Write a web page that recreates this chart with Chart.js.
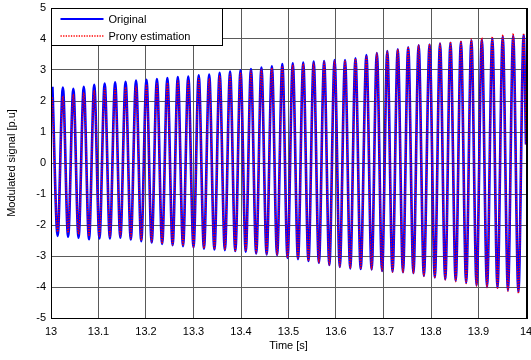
<!DOCTYPE html>
<html>
<head>
<meta charset="utf-8">
<script src="https://cdn.jsdelivr.net/npm/chart.js@4"></script>
<style>
  html, body { margin: 0; padding: 0; background: #fff; }
  #wrap { width: 531px; height: 360px; }
</style>
</head>
<body>
<div id="wrap"><canvas id="grafico"></canvas></div>
<script>
// times of the peaks and troughs [s]
const peakT = [13.003, 13.025, 13.047, 13.069, 13.091, 13.113, 13.135, 13.157, 13.179, 13.201,
  13.223, 13.245, 13.267, 13.289, 13.311, 13.333, 13.355, 13.377, 13.399, 13.421,
  13.443, 13.465, 13.487, 13.509, 13.531, 13.553, 13.575, 13.597, 13.619, 13.641,
  13.664, 13.686, 13.708, 13.730, 13.752, 13.774, 13.797, 13.819, 13.841, 13.863,
  13.885, 13.907, 13.929, 13.951, 13.973, 13.995]
const troughT = [13.014, 13.036, 13.058, 13.080, 13.102, 13.124, 13.146, 13.168, 13.190, 13.212,
  13.234, 13.256, 13.278, 13.300, 13.322, 13.344, 13.366, 13.388, 13.410, 13.432,
  13.454, 13.476, 13.498, 13.520, 13.542, 13.564, 13.586, 13.608, 13.630, 13.652,
  13.675, 13.697, 13.719, 13.741, 13.763, 13.785, 13.808, 13.830, 13.852, 13.874,
  13.896, 13.918, 13.940, 13.962, 13.984]
const endT = 14.0

// Original signal [p.u]
const originalPeaks = [2.46, 2.43, 2.39, 2.46, 2.52, 2.56, 2.60, 2.62, 2.66, 2.68, 2.71, 2.74, 2.77, 2.79, 2.83, 2.85,
  2.91, 2.95, 2.99, 3.03, 3.08, 3.12, 3.19, 3.22, 3.24, 3.27, 3.29, 3.32, 3.32, 3.38, 3.48,
  3.55, 3.61, 3.67, 3.73, 3.80, 3.82, 3.85, 3.88, 3.91, 3.96, 3.99, 4.02, 4.08, 4.10, 4.13]
const originalTroughs = [-2.35, -2.38, -2.41, -2.46, -2.43, -2.43, -2.41, -2.47, -2.52, -2.56, -2.61, -2.65, -2.68, -2.72, -2.76,
  -2.79, -2.81, -2.84, -2.86, -2.92, -2.95, -2.97, -3.06, -3.10, -3.16, -3.22, -3.29, -3.35, -3.40, -3.42,
  -3.43, -3.48, -3.51, -3.52, -3.55, -3.64, -3.69, -3.75, -3.80, -3.86, -3.94, -3.99, -4.02, -4.10, -4.16]
const originalEnd = 0.6

// Prony estimation [p.u]
const pronyPeaks = [2.11, 2.16, 2.22, 2.27, 2.35, 2.41, 2.41, 2.45, 2.49, 2.54, 2.56, 2.59, 2.65, 2.65, 2.73, 2.73,
  2.82, 2.87, 2.92, 2.97, 3.02, 3.07, 3.13, 3.17, 3.20, 3.23, 3.26, 3.30, 3.31, 3.37, 3.46,
  3.55, 3.61, 3.67, 3.74, 3.81, 3.84, 3.87, 3.91, 3.94, 4.00, 4.04, 4.08, 4.14, 4.18, 4.18]
const pronyTroughs = [-2.22, -2.25, -2.30, -2.36, -2.36, -2.37, -2.37, -2.44, -2.50, -2.54, -2.60, -2.64, -2.67, -2.71, -2.75,
  -2.78, -2.80, -2.83, -2.85, -2.91, -2.94, -2.97, -3.06, -3.10, -3.16, -3.22, -3.29, -3.35, -3.40, -3.42,
  -3.44, -3.49, -3.52, -3.54, -3.57, -3.66, -3.71, -3.77, -3.83, -3.89, -3.97, -4.02, -4.06, -4.14, -4.21]
const pronyEnd = 0.6

const xTicks = ['13', '13.1', '13.2', '13.3', '13.4', '13.5', '13.6', '13.7', '13.8', '13.9', '14']
const yTicks = [-5, -4, -3, -2, -1, 0, 1, 2, 3, 4, 5]

const FONT = 'Liberation Sans, Arial, sans-serif'

// peaks and troughs alternate
function serie(peaks, troughs, last) {
  const pts = []
  for (let i = 0; i < peakT.length; i++) {
    pts.push({ x: peakT[i], y: peaks[i] })
    if (i < troughT.length) pts.push({ x: troughT[i], y: troughs[i] })
  }
  pts.push({ x: endT, y: last })
  return pts
}

const caixa = {
  id: 'caixa',
  afterDatasetsDraw(chart) {
    const { ctx, chartArea: a } = chart
    ctx.save()
    ctx.strokeStyle = '#000'
    ctx.lineWidth = 1
    ctx.strokeRect(Math.round(a.left) + 0.5, Math.round(a.top) + 0.5, Math.round(a.right - a.left), Math.round(a.bottom - a.top))
    // right edge is a bit heavier
    ctx.fillStyle = '#000'
    ctx.fillRect(Math.round(a.right), Math.round(a.top), 2, Math.round(a.bottom - a.top) + 1)

    // legend inside the plot
    const lx = Math.round(a.left) + 0.5, ly = Math.round(a.top) + 0.5
    ctx.fillStyle = '#fff'
    ctx.fillRect(lx, ly, 171, 37)
    ctx.strokeRect(lx, ly, 171, 37)
    const ds = chart.data.datasets
    const rows = [19, 36]
    ds.forEach((d, i) => {
      ctx.beginPath()
      ctx.strokeStyle = d.borderColor
      ctx.lineWidth = i === 0 ? 2 : 1.5
      ctx.setLineDash(d.borderDash || [])
      ctx.moveTo(lx + 9, rows[i])
      ctx.lineTo(lx + 52, rows[i])
      ctx.stroke()
      ctx.setLineDash([])
      ctx.fillStyle = '#000'
      ctx.font = '11px ' + FONT
      ctx.textBaseline = 'middle'
      ctx.fillText(d.label, lx + 57, rows[i] + 0.5)
    })
    ctx.restore()
  }
}

const config = {
  type: 'line',
  data: {
    datasets: [{
      label: 'Original',
      data: serie(originalPeaks, originalTroughs, originalEnd),
      borderColor: '#0000ff',
      borderWidth: 2.6,
      pointRadius: 0,
      cubicInterpolationMode: 'monotone',
      order: 2
    }, {
      label: 'Prony estimation',
      data: serie(pronyPeaks, pronyTroughs, pronyEnd),
      borderColor: '#ff0000',
      borderWidth: 1.3,
      borderDash: [1.3, 1.3],
      pointRadius: 0,
      cubicInterpolationMode: 'monotone',
      order: 1
    }]
  },
  options: {
    responsive: true,
    maintainAspectRatio: false,
    animation: false,
    events: [],
    layout: { padding: { top: 8, right: 5, left: 0, bottom: 0 } },
    plugins: { legend: { display: false }, tooltip: { enabled: false } },
    scales: {
      x: {
        type: 'linear',
        min: 13,
        max: 14,
        afterBuildTicks: s => { s.ticks = xTicks.map(t => ({ value: Number(t) })) },
        afterFit: s => { s.height = 42; s.paddingLeft = 0; s.paddingRight = 0 },
        ticks: {
          callback: (v, i) => xTicks[i],
          color: '#000',
          font: { family: FONT, size: 11 },
          padding: 7,
          maxRotation: 0,
          autoSkip: false
        },
        grid: { color: '#5a5a5a', lineWidth: 1, drawTicks: false },
        border: { display: true, color: '#000' },
        title: {
          display: true,
          text: 'Time [s]',
          color: '#000',
          font: { family: FONT, size: 11 },
          padding: { top: 0, bottom: 7 }
        }
      },
      y: {
        min: -5,
        max: 5,
        afterBuildTicks: s => { s.ticks = yTicks.map(t => ({ value: t })) },
        afterFit: s => { s.width = 51; s.paddingTop = 0; s.paddingBottom = 0 },
        ticks: {
          callback: (v, i) => String(yTicks[i]),
          color: '#000',
          font: { family: FONT, size: 11 },
          padding: 5
        },
        grid: { color: '#5a5a5a', lineWidth: 1, drawTicks: false },
        border: { display: true, color: '#000' },
        title: {
          display: true,
          text: 'Modulated signal [p.u]',
          color: '#000',
          font: { family: FONT, size: 11 },
          padding: { top: 5, bottom: 0 }
        }
      }
    }
  },
  plugins: [caixa]
}

const graph = new Chart(document.getElementById('grafico'), config)
</script>
</body>
</html>
